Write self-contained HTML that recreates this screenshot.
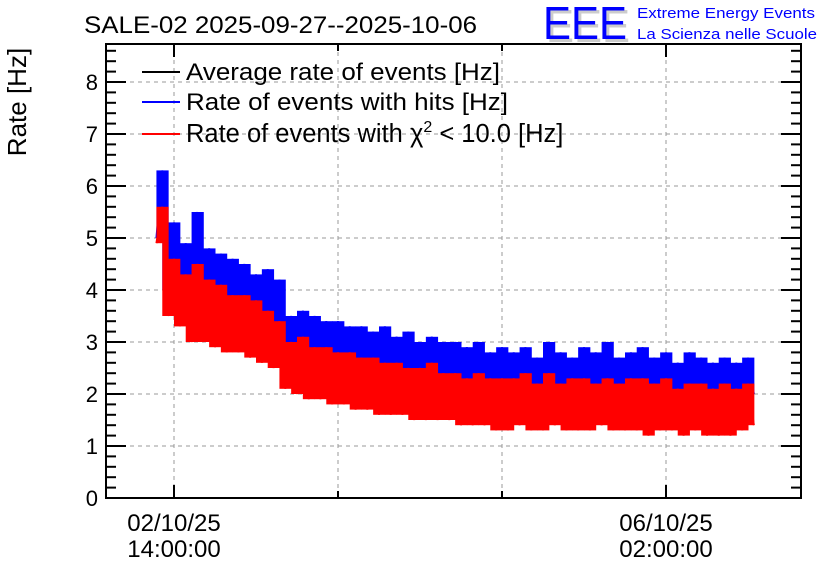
<!DOCTYPE html>
<html><head><meta charset="utf-8"><style>
body{margin:0;background:#fff;}
svg{display:block;font-family:"Liberation Sans",sans-serif;}
</style></head><body>
<svg id="chart" width="836" height="572" viewBox="0 0 836 572">
<text x="84" y="33" font-size="24" textLength="393" lengthAdjust="spacingAndGlyphs">SALE-02 2025-09-27--2025-10-06</text>
<g>
<text x="546" y="42" font-size="46" fill="#ccc" textLength="84" lengthAdjust="spacingAndGlyphs">EEE</text>
<text x="543" y="39" font-size="46" fill="#00f" textLength="84" lengthAdjust="spacingAndGlyphs">EEE</text>
<text x="637" y="18" font-size="15" fill="#00f" textLength="178" lengthAdjust="spacingAndGlyphs">Extreme Energy Events</text>
<text x="637" y="39" font-size="15" fill="#00f" textLength="180" lengthAdjust="spacingAndGlyphs">La Scienza nelle Scuole</text>
</g>
<text transform="translate(26,102) rotate(-90)" text-anchor="middle" font-size="26">Rate [Hz]</text>
<g id="grid"></g>
<g id="series"></g>
<g id="axes"></g>
<g font-size="24">
<line x1="142" y1="72" x2="180" y2="72" stroke="#000" stroke-width="2"/>
<text x="186" y="80" textLength="314" lengthAdjust="spacingAndGlyphs">Average rate of events [Hz]</text>
<line x1="142" y1="102" x2="180" y2="102" stroke="#00f" stroke-width="2"/>
<text x="186" y="110" textLength="322" lengthAdjust="spacingAndGlyphs">Rate of events with hits [Hz]</text>
<line x1="142" y1="134" x2="180" y2="134" stroke="#f00" stroke-width="2"/>
<text x="186" y="142" font-size="25.5">Rate of events with χ<tspan font-size="16" dy="-10">2</tspan><tspan dy="10"> &lt; 10.0 [Hz]</tspan></text>
</g>
</svg>
<script>
const hours=[-3,-2,-1,0,1,2,3,4,5,6,7,8,9,10,11,12,13,14,15,16,17,18,19,20,21,22,23,24,25,26,27,28,29,30,31,32,33,34,35,36,37,38,39,40,41,42,43,44,45,46,47,48,49,50,51,52,53,54,55,56,57,58,59,60,61,62,63,64,65,66,67,68,69,70,71,72,73,74,75,76,77,78,79,80,81,82,83,84,85,86,87,88,89,90,91,92,93,94,95,96,97,98,99];
const hitsRate=[5.0,6.3,4.0,5.3,3.9,4.9,3.8,5.5,3.7,4.8,3.6,4.7,3.6,4.6,3.5,4.5,3.5,4.3,3.4,4.4,3.3,4.2,2.9,3.5,2.8,3.6,2.7,3.5,2.6,3.4,2.6,3.4,2.5,3.3,2.5,3.3,2.4,3.2,2.4,3.3,2.3,3.1,2.3,3.2,2.3,3.0,2.2,3.1,2.2,3.0,2.2,3.0,2.1,2.9,2.1,3.0,2.1,2.8,2.0,2.9,2.0,2.8,2.0,2.9,2.0,2.7,1.9,3.0,2.0,2.8,1.9,2.7,1.9,2.9,1.9,2.8,2.0,3.0,1.9,2.7,1.9,2.8,1.9,2.9,1.8,2.7,1.9,2.8,1.9,2.6,1.8,2.8,1.9,2.7,1.8,2.6,1.8,2.7,1.8,2.6,1.8,2.7,2.0];
const chi2Rate=[4.9,5.6,3.5,4.6,3.3,4.3,3.0,4.5,3.0,4.2,2.9,4.1,2.8,3.9,2.8,3.9,2.7,3.8,2.6,3.6,2.5,3.4,2.1,3.0,2.0,3.1,1.9,2.9,1.9,2.9,1.8,2.8,1.8,2.8,1.7,2.7,1.7,2.7,1.6,2.6,1.6,2.6,1.6,2.5,1.5,2.5,1.5,2.6,1.5,2.4,1.5,2.4,1.4,2.3,1.4,2.4,1.4,2.3,1.3,2.3,1.3,2.3,1.4,2.4,1.3,2.2,1.3,2.4,1.4,2.2,1.3,2.3,1.3,2.3,1.3,2.2,1.4,2.3,1.3,2.2,1.3,2.3,1.3,2.3,1.2,2.2,1.3,2.3,1.3,2.1,1.2,2.2,1.3,2.2,1.2,2.1,1.2,2.2,1.2,2.1,1.3,2.2,1.4];
const yTicks=[0,1,2,3,4,5,6,7,8];
const xTickHours=[0,28,56,84];
const xTickDate=["02/10/25","","","06/10/25"];
const xTickTime=["14:00:00","","","02:00:00"];
const L=106,R=801,T=44,B=498;
const xs=h=>174+h*(164/28);
const ys=v=>B-v*52;
const NS="http://www.w3.org/2000/svg";
function mk(tag,attrs,parent){const e=document.createElementNS(NS,tag);for(const k in attrs)e.setAttribute(k,attrs[k]);parent.appendChild(e);return e;}
const grid=document.getElementById('grid'),axes=document.getElementById('axes'),ser=document.getElementById('series');
yTicks.forEach(v=>{if(v>0){const g=mk('line',{x1:L,x2:R,y1:ys(v),y2:ys(v),stroke:'#999','stroke-dasharray':'4,4','stroke-width':1},grid);

}
const t=mk('text',{x:L-8,y:ys(v)+8,'text-anchor':'end','font-size':22},axes);t.textContent=v;


mk('line',{x1:L,x2:L+20,y1:ys(v),y2:ys(v),stroke:'#000','stroke-width':2},axes);
mk('line',{x1:R-20,x2:R,y1:ys(v),y2:ys(v),stroke:'#000','stroke-width':2},axes);
for(let k=1;k<5;k++){const mv=v+k*0.2;if(ys(mv)<T)break;
mk('line',{x1:L,x2:L+10,y1:ys(mv),y2:ys(mv),stroke:'#000','stroke-width':2},axes);
mk('line',{x1:R-10,x2:R,y1:ys(mv),y2:ys(mv),stroke:'#000','stroke-width':2},axes);}});
xTickHours.forEach((h,i)=>{const x=xs(h);
const len=xTickDate[i]?13:7;
const g=mk('line',{x1:x,x2:x,y1:T,y2:B,stroke:'#999','stroke-dasharray':'4,4','stroke-width':1},grid);


mk('line',{x1:x,x2:x,y1:B-len,y2:B,stroke:'#000','stroke-width':2},axes);
mk('line',{x1:x,x2:x,y1:T,y2:T+len,stroke:'#000','stroke-width':2},axes);
if(xTickDate[i]){const a=mk('text',{x:x,y:531,'text-anchor':'middle','font-size':24},axes);a.textContent=xTickDate[i];


const b=mk('text',{x:x,y:557,'text-anchor':'middle','font-size':24},axes);b.textContent=xTickTime[i];

}});
const fr=mk('rect',{x:L,y:T,width:R-L,height:B-T,fill:'none',stroke:'#000','stroke-width':2},axes);


function band(vals,color,name){
const g=mk('g',{},ser);


for(let i=0;i+1<vals.length;i++){
const x0=xs(hours[i]),x1=xs(hours[i+1]);
const hi=Math.max(vals[i],vals[i+1]),lo=Math.min(vals[i],vals[i+1]);
mk('rect',{x:x0,y:ys(hi),width:x1-x0+0.5,height:ys(lo)-ys(hi),fill:color},g);}
mk('polyline',{points:vals.map((v,i)=>xs(hours[i])+','+ys(v)).join(' '),fill:'none',stroke:color,'stroke-width':2},g);}
band(hitsRate,'#00f','hits-rate-series');
band(chi2Rate,'#f00','chi2-rate-series');
</script>
</body></html>
